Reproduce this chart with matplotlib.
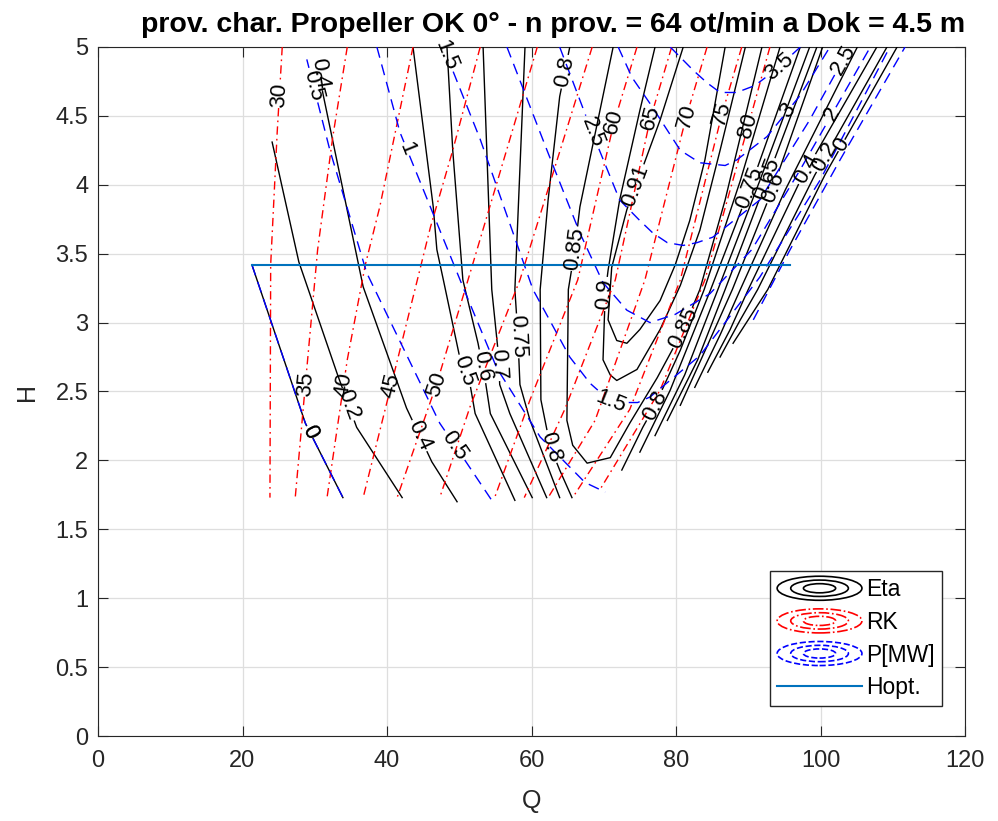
import numpy as np
import matplotlib.pyplot as plt
from matplotlib.lines import Line2D
from matplotlib.legend_handler import HandlerBase
from matplotlib.patches import Ellipse

plt.rcParams['font.family'] = ['Liberation Sans', 'DejaVu Sans']

# ---- efficiency Eta: one polyline (Q, H) per contour piece ----
eta_levels = [0, 0.2, 0.4, 0.5, 0.6, 0.7, 0.75, 0.8, 0.85, 0.9, 0.91,
              0.8, 0.75, 0.7, 0.65, 0.6, 0.5, 0.4, 0.2, 0]
eta_q = [
    [21.3, 28.7, 33.9],
    [24.1, 27.8, 33.1, 35.8, 42.1],
    [30.4, 31.1, 36.7, 42.7, 46.2, 49.7],
    [43.6, 46.4, 46.9, 47.8, 50.1, 51.5, 52.2, 57.7],
    [48.3, 49.1, 50.5, 52.6, 53.6, 54.3, 60.1],
    [53.3, 54.5, 55.4, 55.6, 57.0, 62.1],
    [59.1, 57.7, 58.1, 58.4, 59.8, 63.9],
    [65.3, 63.9, 62.3, 61.2, 61.3, 62.6, 63.9, 65.6],
    [71.3, 66.7, 66.0, 65.1, 64.9, 65.7, 67.7, 70.9, 73.6, 77.4, 81.0, 83.3, 86.8, 91.9],
    [77.1, 75.0, 72.2, 70.6, 70.2, 69.9, 70.9, 71.8, 74.6, 77.8, 80.6, 83.3, 86.1, 89.6],
    [81.0, 77.8, 75.0, 73.2, 71.1, 70.6, 71.8, 73.2, 75.0, 77.8, 79.9, 81.9, 84.0, 86.8],
    [72.5, 75.4, 77.1, 80.6, 83.9, 88.9, 94.4],
    [75.0, 79.2, 84.8, 90.9, 97.2],
    [77.1, 81.2, 85.8, 91.6, 98.5],
    [78.8, 83.0, 86.8, 92.3, 99.5],
    [80.6, 84.4, 87.8, 93.3, 100.3],
    [82.6, 86.1, 88.9, 95.1, 105.1],
    [84.4, 87.5, 90.0, 97.2, 107.8],
    [86.1, 88.9, 91.3, 99.2, 109.2],
    [87.9, 92.7, 100.6, 110.6],
]
eta_h = [
    [3.42, 2.27, 1.73],
    [4.31, 3.44, 2.63, 2.24, 1.73],
    [4.91, 4.67, 3.26, 2.38, 1.99, 1.70],
    [5.00, 3.84, 3.53, 3.31, 2.74, 2.55, 2.34, 1.71],
    [5.00, 4.25, 3.31, 2.85, 2.58, 2.34, 1.73],
    [5.00, 3.24, 2.78, 2.55, 2.34, 1.73],
    [5.00, 3.24, 2.92, 2.55, 2.29, 1.73],
    [5.00, 4.64, 3.89, 3.24, 2.44, 2.10, 1.93, 1.73],
    [5.00, 3.84, 3.53, 3.24, 2.29, 2.11, 1.98, 2.02, 2.27, 2.60, 2.95, 3.24, 3.89, 5.00],
    [5.00, 4.54, 3.89, 3.38, 3.21, 2.73, 2.62, 2.58, 2.66, 2.95, 3.27, 3.67, 4.25, 5.00],
    [5.00, 4.47, 4.07, 3.82, 3.40, 3.02, 2.87, 2.85, 2.95, 3.16, 3.42, 3.74, 4.18, 5.00],
    [1.93, 2.24, 2.40, 2.80, 3.24, 4.03, 5.00],
    [2.06, 2.51, 3.24, 4.07, 5.00],
    [2.18, 2.62, 3.24, 4.03, 5.00],
    [2.29, 2.73, 3.24, 4.00, 5.00],
    [2.40, 2.84, 3.24, 3.96, 5.00],
    [2.53, 2.91, 3.24, 3.96, 5.00],
    [2.64, 2.95, 3.24, 4.03, 5.00],
    [2.75, 3.02, 3.24, 4.07, 5.00],
    [2.85, 3.24, 4.07, 5.00],
]

# ---- specific speed RK ----
rk_levels = [30, 35, 40, 45, 50, 55, 60, 65, 70, 75, 80]
rk_q = [
    [25.5, 24.8, 23.9, 23.8],
    [34.5, 32.5, 30.4, 28.7, 27.3],
    [43.6, 39.0, 37.0, 34.5, 31.7],
    [52.9, 49.1, 46.0, 40.6, 36.7],
    [60.8, 51.5, 46.9, 41.4],
    [68.4, 58.4, 51.5, 47.3],
    [74.6, 71.4, 66.4, 59.8, 54.9],
    [79.4, 76.4, 71.6, 64.6, 59.0],
    [84.3, 81.4, 75.7, 68.8, 62.3],
    [89.1, 86.4, 80.6, 73.6, 65.7],
    [93.0, 90.0, 84.0, 77.8, 69.5],
]
rk_h = [
    [5.00, 4.38, 3.42, 1.73],
    [5.00, 4.35, 3.53, 2.55, 1.73],
    [5.00, 3.84, 3.42, 2.73, 1.73],
    [5.00, 4.25, 3.69, 2.55, 1.73],
    [5.00, 3.36, 2.56, 1.73],
    [5.00, 3.31, 2.39, 1.73],
    [5.00, 4.45, 3.31, 2.44, 1.73],
    [5.00, 4.47, 3.31, 2.37, 1.73],
    [5.00, 4.49, 3.31, 2.29, 1.73],
    [5.00, 4.52, 3.31, 2.37, 1.73],
    [5.00, 4.43, 3.31, 2.51, 1.79],
]

# ---- shaft power P [MW] ----
p_levels = [0, 0.5, 1, 1, 1.5, 2, 2.5, 3, 3.5]
p_q = [
    [21.3, 28.7, 33.9],
    [28.9, 32.1, 37.2, 47.3, 50.8, 54.5],
    [38.6, 41.8, 50.5, 55.2, 61.2, 67.4, 70.2],
    [90.7, 95.8, 102.7, 111.7],
    [47.8, 52.9, 60.2, 65.3, 68.1, 71.1, 74.7, 76.4, 83.3, 91.6, 99.9, 109.6],
    [56.6, 62.3, 66.7, 69.9, 73.2, 76.4, 79.9, 84.7, 90.5, 97.2, 106.9],
    [63.9, 68.4, 72.2, 75.0, 76.8, 78.8, 81.0, 82.9, 85.1, 91.6, 98.5, 104.1],
    [72.0, 73.9, 76.4, 80.6, 83.3, 86.8, 88.4, 92.6, 97.2, 101.3],
    [79.2, 82.4, 84.3, 86.1, 88.4, 90.9, 93.7, 97.2],
]
p_h = [
    [3.42, 2.27, 1.73],
    [4.91, 4.25, 3.36, 2.27, 2.00, 1.71],
    [5.00, 4.38, 3.26, 2.67, 2.17, 1.84, 1.77],
    [3.02, 3.53, 4.18, 5.00],
    [5.00, 4.33, 3.24, 2.75, 2.56, 2.42, 2.42, 2.46, 2.76, 3.33, 4.03, 5.00],
    [5.00, 4.23, 3.65, 3.29, 3.09, 3.00, 3.06, 3.21, 3.53, 4.11, 5.00],
    [5.00, 4.38, 3.89, 3.74, 3.65, 3.58, 3.56, 3.58, 3.62, 3.89, 4.47, 5.00],
    [5.00, 4.78, 4.59, 4.25, 4.16, 4.14, 4.18, 4.35, 4.65, 5.00],
    [5.00, 4.83, 4.74, 4.67, 4.67, 4.72, 4.83, 5.00],
]

# optimum head
hopt_q = [21.3, 95.8]
hopt_h = [3.418, 3.418]

title = 'prov. char. Propeller OK 0° - n prov. = 64 ot/min a Dok = 4.5 m'

# inline label spots (Q, H), one tuple per polyline
eta_lab = [[(28.0, 2.17)], [(34.2, 2.40)], [(29.9, 4.80), (44.3, 2.17)], [(51.2, 2.66)],
           [(53.6, 2.69)], [(56.0, 2.70)], [(58.2, 2.90)], [(64.8, 4.82), (62.6, 2.10)],
           [(66.0, 3.53), (81.0, 2.95)], [(70.2, 3.21)], [(74.0, 4.00)],
           [(77.1, 2.40)], [(90.9, 3.96)], [], [(93.0, 4.03)], [(93.6, 3.98)], [],
           [(98.3, 4.11)], [(101.3, 4.18)], [(104.1, 4.25)]]
rk_lab = [[(25.6, 4.65)], [(28.7, 2.55)], [(33.5, 2.55)], [(40.4, 2.55)], [(46.9, 2.55)], [],
          [(71.8, 4.45)], [(76.7, 4.48)], [(81.7, 4.49)], [(85.8, 4.53)], [(90.0, 4.43)]]
p_lab = [[(28.0, 2.17)], [(29.3, 4.72), (49.0, 2.10)], [(42.2, 4.25)], [],
         [(47.8, 4.93), (71.1, 2.44)], [(101.7, 4.51)], [(68.4, 4.38), (103.8, 4.89)],
         [(95.5, 4.54)], [(94.8, 4.83)]]

fig = plt.figure(figsize=(9.98, 8.21), dpi=100)
ax = fig.add_axes([98 / 998, 85 / 821, 867 / 998, 689 / 821])
ax.set_xlim(0, 120)
ax.set_ylim(0, 5)

LABEL_FS = 16


def fmt(v):
    return '%g' % v


def draw_level(q, h, value, color, dashes, spots=()):
    """draw one contour piece; each label sits in a gap cut into the line"""
    q = np.asarray(q, float)
    h = np.asarray(h, float)
    pts = ax.transData.transform(np.column_stack([q, h]))
    s = np.concatenate([[0], np.cumsum(np.hypot(*np.diff(pts, axis=0).T))])
    dense = np.linspace(0, s[-1], 400)
    dx = np.interp(dense, s, pts[:, 0])
    dy = np.interp(dense, s, pts[:, 1])
    text = fmt(value)
    half = 0.33 * LABEL_FS * len(text) + 2
    cuts = []
    for sq, sh in spots:
        px, py = ax.transData.transform((sq, sh))
        s0 = dense[np.argmin(np.hypot(dx - px, dy - py))]
        cuts.append((s0 - half, s0 + half))
        a0, a1 = max(s0 - half, 0), min(s0 + half, s[-1])
        x0, y0 = np.interp(a0, s, pts[:, 0]), np.interp(a0, s, pts[:, 1])
        x1, y1 = np.interp(a1, s, pts[:, 0]), np.interp(a1, s, pts[:, 1])
        ang = np.degrees(np.arctan2(y1 - y0, x1 - x0))
        if ang > 90:
            ang -= 180
        if ang < -90:
            ang += 180
        cx, cy = np.interp(s0, s, q), np.interp(s0, s, h)
        ax.text(cx, cy, text, rotation=ang, rotation_mode='anchor', ha='center', va='center',
                fontsize=LABEL_FS, color='black', zorder=5)
    edges = [0]
    for a, b in sorted(cuts):
        edges += [a, b]
    edges.append(s[-1])
    for a, b in zip(edges[::2], edges[1::2]):
        if b - a < 1:
            continue
        inner = (s > a) & (s < b)
        ss = np.concatenate([[a], s[inner], [b]])
        line, = ax.plot(np.interp(ss, s, q), np.interp(ss, s, h), color=color, lw=1.0, zorder=3)
        if dashes:
            line.set_dashes(dashes)


ETA_STYLE = ('black', None)
RK_STYLE = ('red', (6, 3, 1.2, 3))
P_STYLE = ('blue', (8, 5))

for lv, q, h, lab in zip(eta_levels, eta_q, eta_h, eta_lab):
    draw_level(q, h, lv, *ETA_STYLE, spots=lab)
for lv, q, h, lab in zip(rk_levels, rk_q, rk_h, rk_lab):
    draw_level(q, h, lv, *RK_STYLE, spots=lab)
for lv, q, h, lab in zip(p_levels, p_q, p_h, p_lab):
    draw_level(q, h, lv, *P_STYLE, spots=lab)

ax.plot(hopt_q, hopt_h, color='#0072BD', lw=1.5, zorder=4)

ax.set_xticks(np.arange(0, 121, 20))
yt = np.arange(0, 5.01, 0.5)
ax.set_yticks(yt)
ax.set_yticklabels([fmt(v) for v in yt])
ax.grid(True, color='#dedede', lw=0.9)
ax.set_axisbelow(True)
ax.tick_params(direction='in', top=True, right=True, labelsize=17, colors='#262626',
               length=7, pad=7)
ax.tick_params(axis='x', pad=10)
for sp in ax.spines.values():
    sp.set_color('#262626')
ax.set_xlabel('Q', fontsize=18, color='#262626', labelpad=12)
ax.set_ylabel('H', fontsize=18, color='#262626', labelpad=12)
ax.set_title(title, fontsize=20.5, fontweight='bold', pad=11, x=0.525)


class ContourIcon(HandlerBase):
    def create_artists(self, legend, orig, xd, yd, w, h, fs, trans):
        out = []
        cx, cy = xd + w / 2, yd + h / 2
        for k in (1.0, 0.68, 0.38):
            e = Ellipse((cx, cy), w * k, h * 1.5 * k, fill=False, edgecolor=orig.get_color(),
                        lw=1.2, transform=trans)
            e.set_linestyle(orig.get_linestyle())
            out.append(e)
        return out


h_eta = Line2D([], [], color='black', ls='-')
h_rk = Line2D([], [], color='red', ls='-.')
h_p = Line2D([], [], color='blue', ls='--')
h_opt = Line2D([], [], color='#0072BD', lw=1.5)
ax.legend([h_eta, h_rk, h_p, h_opt], ['Eta', 'RK', 'P[MW]', 'Hopt.'], loc='lower right',
          bbox_to_anchor=(0.9735, 0.0435), borderaxespad=0, fontsize=16.5, handlelength=3.7,
          fancybox=False, edgecolor='#262626', framealpha=1, borderpad=0.3,
          labelspacing=0.42, handletextpad=0.2,
          handler_map={h_eta: ContourIcon(), h_rk: ContourIcon(), h_p: ContourIcon()})

fig.savefig('out.png', dpi=100)
